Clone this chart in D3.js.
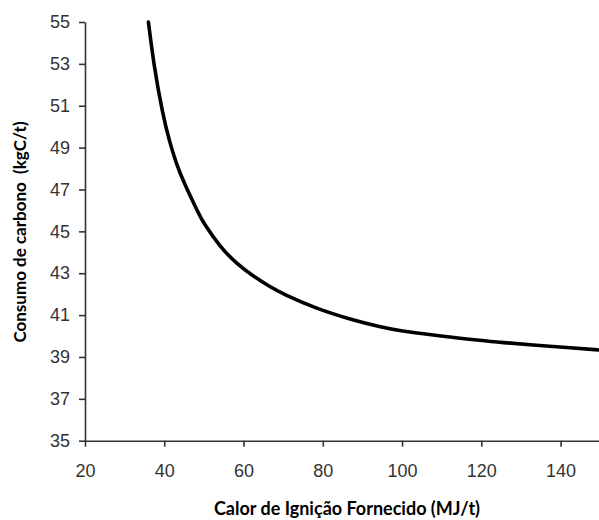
<!DOCTYPE html>
<html>
<head>
<meta charset="utf-8">
<script src="https://cdn.jsdelivr.net/npm/d3@7"></script>
<style>
  html, body { margin: 0; padding: 0; background: #fff; }
  svg { display: block; }
</style>
</head>
<body>
<svg id="chart" width="599" height="520"></svg>
<script>
// Data
const heatValues   = [36.0, 37.4, 39.6, 41.3, 43.1, 44.8, 48.8, 49.9, 54.1, 58.3, 62.5, 66.7, 70.0, 78.5, 86.9, 95.2, 99.5, 107.8, 116.4, 124.7, 133.0, 141.6, 150.0];
const carbonValues = [55.0, 52.9, 50.6, 49.3, 48.2, 47.4, 45.8, 45.4, 44.25, 43.45, 42.85, 42.35, 42.0, 41.3, 40.8, 40.4, 40.25, 40.05, 39.85, 39.7, 39.57, 39.45, 39.33];
const xTicks = [20, 40, 60, 80, 100, 120, 140];
const yTicks = [35, 37, 39, 41, 43, 45, 47, 49, 51, 53, 55];
const xTitle = "Calor de Ignição Fornecido (MJ/t)";
const yTitle = "Consumo de carbono  (kgC/t)";

const svg = d3.select("#chart");
const x = d3.scaleLinear().domain([20, 150]).range([85, 600.2]);
const y = d3.scaleLinear().domain([35, 55]).range([440.7, 22]);

const axisColor = "#333";
const tickFont = "Arial, 'Liberation Sans', sans-serif";

const gx = svg.append("g")
  .attr("transform", `translate(0,${y(35)})`)
  .call(d3.axisBottom(x).tickValues(xTicks).tickSize(6).tickSizeOuter(0).tickPadding(18));
const gy = svg.append("g")
  .attr("transform", `translate(${x(20)},0)`)
  .call(d3.axisLeft(y).tickValues(yTicks).tickSize(6).tickSizeOuter(0).tickPadding(9));

[gx, gy].forEach(g => {
  g.attr("font-family", tickFont).attr("font-size", 18);
  g.select(".domain").attr("stroke", axisColor).attr("stroke-width", 1.6);
  g.selectAll(".tick line").attr("stroke", axisColor).attr("stroke-width", 1.6);
  g.selectAll(".tick text")
    .attr("fill", "#333")
    .style("font-family", tickFont)
    .style("font-size", "18px");
});

const points = heatValues.map((v, i) => [v, carbonValues[i]]);
svg.append("path")
  .datum(points)
  .attr("fill", "none")
  .attr("stroke", "#000")
  .attr("stroke-width", 3.6)
  .attr("stroke-linecap", "round")
  .attr("stroke-linejoin", "round")
  .attr("d", d3.line().x(d => x(d[0])).y(d => y(d[1])).curve(d3.curveBasis));

svg.append("text")
  .attr("x", 347)
  .attr("y", 515)
  .attr("text-anchor", "middle")
  .style("font-family", "Lato, 'Open Sans', sans-serif")
  .style("font-weight", "bold")
  .style("font-size", "18px")
  .attr("fill", "#000")
  .text(xTitle);

svg.append("text")
  .attr("transform", "translate(26,232) rotate(-90)")
  .attr("text-anchor", "middle")
  .style("font-family", "Lato, 'Open Sans', sans-serif")
  .style("font-weight", "bold")
  .style("font-size", "17px")
  .style("white-space", "pre")
  .attr("fill", "#000")
  .text(yTitle);
</script>
</body>
</html>
